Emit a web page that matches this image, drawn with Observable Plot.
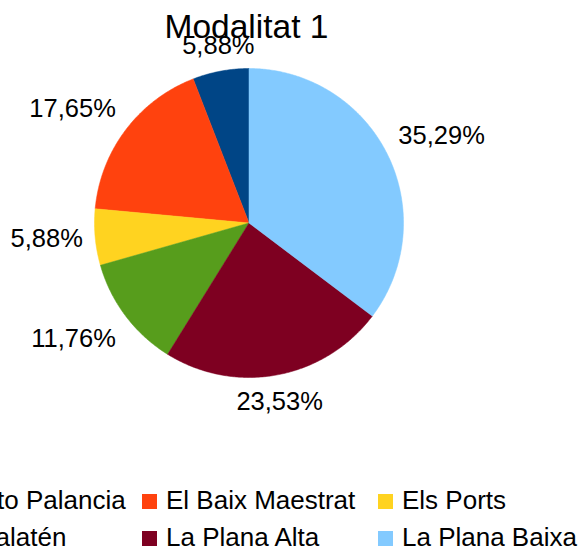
<!DOCTYPE html>
<html><head><meta charset="utf-8">
<script src="https://cdn.jsdelivr.net/npm/d3@7"></script>
<script src="https://cdn.jsdelivr.net/npm/@observablehq/plot@0.6"></script>
<style>
html,body{margin:0;padding:0;background:#fff;}
#chart{position:relative;width:581px;height:552px;overflow:hidden;font-family:"Liberation Sans",Arial,sans-serif;color:#000;}
#chart svg{position:absolute;left:0;top:0;}
#title{position:absolute;left:0;top:10px;width:493px;text-align:center;font-size:33.5px;line-height:33px;white-space:nowrap;z-index:0;}
#legend{position:absolute;left:-50px;top:482px;display:grid;grid-template-columns:192px 236px auto;font-size:26px;line-height:37px;white-space:nowrap;}
#legend .item{display:flex;align-items:baseline;}
#legend .sw{display:inline-block;width:15px;height:15px;margin-right:9px;}
</style>
</head><body>
<div id="chart"><div id="title"></div></div>
<script>
const title = "Modalitat 1";
const regions = ["Alto Palancia", "El Baix Maestrat", "Els Ports", "L'Alcalatén", "La Plana Alta", "La Plana Baixa"];
const percents = [5.88, 17.65, 5.88, 11.76, 23.53, 35.29];
const colors = ["#004586", "#ff420e", "#ffd320", "#579d1c", "#7e0021", "#83caff"];

const total = d3.sum(percents);
let acc = 0;
const slices = regions.map((r, i) => {
  const a0 = acc / total * 2 * Math.PI;
  acc += percents[i];
  const a1 = acc / total * 2 * Math.PI;
  return {region: r, value: percents[i], a0, a1};
});
// counterclockwise from 12 o'clock
const pts = slices.flatMap(s => {
  const n = Math.max(2, Math.ceil((s.a1 - s.a0) / (Math.PI / 360)));
  const arr = [{region: s.region, x: 0, y: 0}];
  for (let k = 0; k <= n; k++) {
    const a = s.a0 + (s.a1 - s.a0) * k / n;
    arr.push({region: s.region, x: -Math.sin(a), y: Math.cos(a)});
  }
  arr.push({region: s.region, x: 0, y: 0});
  return arr;
});
const fmt = v => d3.format(".2f")(v).replace(".", ",") + "%";
const labels = slices.map(s => {
  const m = (s.a0 + s.a1) / 2;
  const x = -Math.sin(m) * 1.08, y = Math.cos(m) * 1.08;
  const h = Math.abs(x) < 0.3 ? "middle" : x < 0 ? "end" : "start";
  const v = Math.abs(y) < 0.3 ? "middle" : y > 0 ? "bottom" : "top";
  return {text: fmt(s.value), x, y, h, v};
});
const groups = d3.groups(labels, d => d.h + "|" + d.v);
const textMarks = groups.map(([key, arr]) => {
  const [h, v] = key.split("|");
  return Plot.text(arr, {x: "x", y: "y", text: "text", textAnchor: h, lineAnchor: v,
    dy: v === "bottom" ? -5 : v === "top" ? 5 : 0,
    fontSize: 25.5, fill: "#000", fontFamily: "Liberation Sans, Arial, sans-serif"});
});

const chart = Plot.plot({
  width: 581, height: 552, margin: 0,
  x: {domain: [-1, 1], range: [94, 403], axis: null},
  y: {domain: [-1, 1], range: [377, 68], axis: null},
  color: {domain: regions, range: colors},
  style: {background: "transparent", overflow: "visible"},
  marks: [
    Plot.line(pts, {x: "x", y: "y", z: "region", fill: "region", stroke: "region", strokeWidth: 0.5, curve: "linear"}),
    ...textMarks
  ]
});
const root = document.getElementById("chart");
root.appendChild(chart);
document.getElementById("title").textContent = title;

const legend = document.createElement("div");
legend.id = "legend";
regions.forEach((r, i) => {
  const it = document.createElement("div");
  it.className = "item";
  if (i === 3) it.style.marginLeft = "-34px";
  const sw = document.createElement("span");
  sw.className = "sw";
  sw.style.background = colors[i];
  const t = document.createElement("span");
  t.textContent = r;
  it.appendChild(sw); it.appendChild(t);
  legend.appendChild(it);
});
root.appendChild(legend);
</script>
</body></html>
